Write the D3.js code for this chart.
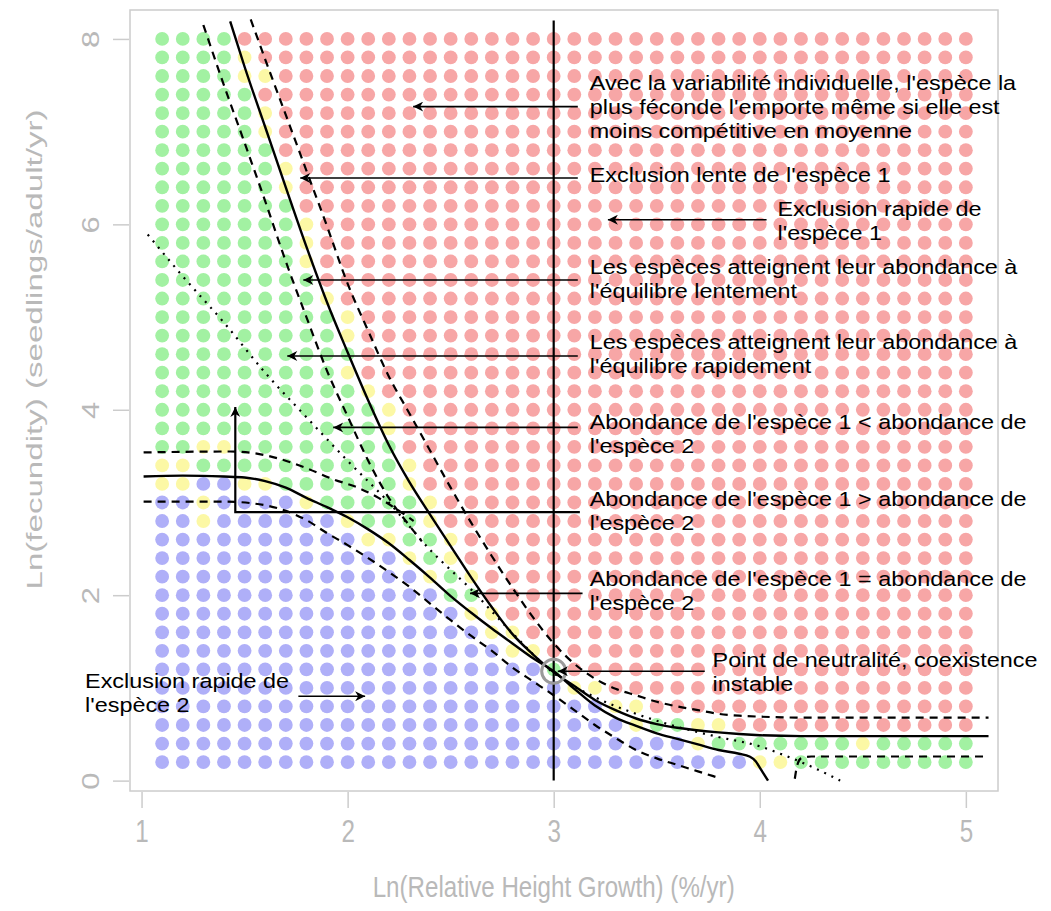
<!DOCTYPE html>
<html><head><meta charset="utf-8">
<script src="https://cdn.jsdelivr.net/npm/d3@7"></script>
<style>body{margin:0;background:#fff} svg{display:block}</style>
</head><body>
<svg id="chart" width="1051" height="911"></svg>
<script>
// ---------------- data ----------------
const xTicks = [1, 2, 3, 4, 5];
const yTicks = [0, 2, 4, 6, 8];
const gridX = [1.1,1.2,1.3,1.4,1.5,1.6,1.7,1.8,1.9,2.0,2.1,2.2,2.3,2.4,2.5,2.6,2.7,2.8,2.9,3.0,
               3.1,3.2,3.3,3.4,3.5,3.6,3.7,3.8,3.9,4.0,4.1,4.2,4.3,4.4,4.5,4.6,4.7,4.8,4.9,5.0];
const gridY = [8.0,7.8,7.6,7.4,7.2,7.0,6.8,6.6,6.4,6.2,6.0,5.8,5.6,5.4,5.2,5.0,4.8,4.6,4.4,4.2,
               4.0,3.8,3.6,3.4,3.2,3.0,2.8,2.6,2.4,2.2,2.0,1.8,1.6,1.4,1.2,1.0,0.8,0.6,0.4,0.2];
// outcome of each grid cell (G coexistence, R species 1 excluded, B species 2 excluded, Y intermediate)
const cellRows = [
 "GGGGRRRRRR RRRRRRRRRR RRRRRRRRRR RRRRRRRRRR",
 "GGGGYRRRRR RRRRRRRRRR RRRRRRRRRR RRRRRRRRRR",
 "GGGGYYRRRR RRRRRRRRRR RRRRRRRRRR RRRRRRRRRR",
 "GGGGGRRRRR RRRRRRRRRR RRRRRRRRRR RRRRRRRRRR",
 "GGGGGYRRRR RRRRRRRRRR RRRRRRRRRR RRRRRRRRRR",
 "GGGGGYRRRR RRRRRRRRRR RRRRRRRRRR RRRRRRRRRR",
 "GGGGGGRRRR RRRRRRRRRR RRRRRRRRRR RRRRRRRRRR",
 "GGGGGGYRRR RRRRRRRRRR RRRRRRRRRR RRRRRRRRRR",
 "GGGGGGYRRR RRRRRRRRRR RRRRRRRRRR RRRRRRRRRR",
 "GGGGGGGRRR RRRRRRRRRR RRRRRRRRRR RRRRRRRRRR",
 "GGGGGGGYRR RRRRRRRRRR RRRRRRRRRR RRRRRRRRRR",
 "GGGGGGGYRR RRRRRRRRRR RRRRRRRRRR RRRRRRRRRR",
 "GGGGGGGYRR RRRRRRRRRR RRRRRRRRRR RRRRRRRRRR",
 "GGGGGGGGRR RRRRRRRRRR RRRRRRRRRR RRRRRRRRRR",
 "GGGGGGGGYR RRRRRRRRRR RRRRRRRRRR RRRRRRRRRR",
 "GGGGGGGGGY RRRRRRRRRR RRRRRRRRRR RRRRRRRRRR",
 "GGGGGGGGGY RRRRRRRRRR RRRRRRRRRR RRRRRRRRRR",
 "GGGGGGGGGG RRRRRRRRRR RRRRRRRRRR RRRRRRRRRR",
 "GGGGGGGGGY RRRRRRRRRR RRRRRRRRRR RRRRRRRRRR",
 "GGGGGGGGGG YRRRRRRRRR RRRRRRRRRR RRRRRRRRRR",
 "GGGGGGGGGG GYRRRRRRRR RRRRRRRRRR RRRRRRRRRR",
 "GGGGGGGGGG GYRRRRRRRR RRRRRRRRRR RRRRRRRRRR",
 "GGYYGGGGGG GGRRRRRRRR RRRRRRRRRR RRRRRRRRRR",
 "YYGGGGGGGG GGYRRRRRRR RRRRRRRRRR RRRRRRRRRR",
 "YYBBYYGGGG GGYRRRRRRR RRRRRRRRRR RRRRRRRRRR",
 "BBYBBBBYGG GGGYRRRRRR RRRRRRRRRR RRRRRRRRRR",
 "BBYBBBBBBY GGGYRRRRRR RRRRRRRRRR RRRRRRRRRR",
 "BBBBBBBBBB YYGGYRRRRR RRRRRRRRRR RRRRRRRRRR",
 "BBBBBBBBBB BBYGYRRRRR RRRRRRRRRR RRRRRRRRRR",
 "BBBBBBBBBB BBBYGYRRRR RRRRRRRRRR RRRRRRRRRR",
 "BBBBBBBBBB BBBBGGRRRR RRRRRRRRRR RRRRRRRRRR",
 "BBBBBBBBBB BBBBBYYRRR RRRRRRRRRR RRRRRRRRRR",
 "BBBBBBBBBB BBBBBBYYRR RRRRRRRRRR RRRRRRRRRR",
 "BBBBBBBBBB BBBBBBBYYR RRRRRRRRRR RRRRRRRRRR",
 "BBBBBBBBBB BBBBBBBBBG RRRRRRRRRR RRRRRRRRRR",
 "BBBBBBBBBB BBBBBBBBBB YYRRRRRRRR RRRRRRRRRR",
 "BBBBBBBBBB BBBBBBBBBB BBYYRRRRRR RRRRRRRRRR",
 "BBBBBBBBBB BBBBBBBBBB BBBYGGYYRR RRRRRRRRRR",
 "BBBBBBBBBB BBBBBBBBBB BBBBBBYGGG GGGGYGGGGG",
 "BBBBBBBBBB BBBBBBBBBB BBBBBBBBBY YGGGGGGGGG"
];
// solid isoclines
const curveA = [[1.43,8.19],[1.50,7.70],[1.60,7.05],[1.70,6.40],[1.80,5.76],[1.90,5.16],[2.00,4.62],
  [2.10,4.10],[2.20,3.62],[2.30,3.22],[2.40,2.87],[2.50,2.53],[2.60,2.19],[2.70,1.87],[2.80,1.58],
  [2.90,1.36],[3.00,1.17],[3.10,1.02],[3.20,0.87],[3.30,0.76],[3.40,0.67],[3.50,0.61],[3.60,0.57],
  [3.80,0.52],[4.00,0.49],[4.20,0.48],[5.11,0.48]];
const curveB = [[1.01,3.28],[1.20,3.29],[1.40,3.28],[1.50,3.27],[1.60,3.23],[1.70,3.16],[1.80,3.05],
  [1.90,2.95],[2.00,2.84],[2.10,2.71],[2.20,2.56],[2.30,2.38],[2.40,2.19],[2.50,1.99],[2.60,1.81],
  [2.70,1.64],[2.80,1.48],[2.90,1.32],[3.00,1.18],[3.10,0.99],[3.20,0.81],[3.30,0.68],[3.40,0.59],
  [3.50,0.51],[3.60,0.45],[3.70,0.39],[3.80,0.33],[3.90,0.29],[3.95,0.26],[3.98,0.21],[4.00,0.14],
  [4.02,0.07],[4.04,0.00]];
// dashed bands
const dashRight = [[1.53,8.21],[1.60,7.78],[1.70,7.18],[1.80,6.58],[1.90,5.98],[2.00,5.36],[2.10,4.85],
  [2.20,4.36],[2.30,3.96],[2.40,3.56],[2.50,3.16],[2.60,2.78],[2.70,2.42],[2.80,2.08],[2.90,1.76],
  [3.00,1.48],[3.10,1.26],[3.20,1.10],[3.30,0.99],[3.40,0.92],[3.50,0.85],[3.60,0.80],[3.70,0.76],
  [3.80,0.72],[3.90,0.70],[4.00,0.69],[4.20,0.68],[5.11,0.68]];
const dashLeft = [[1.30,8.15],[1.40,7.50],[1.50,6.88],[1.60,6.25],[1.70,5.60],[1.80,5.00],[1.90,4.42],
  [2.00,3.93],[2.10,3.45],[2.20,3.05],[2.30,2.75],[2.36,2.58]];
const dashUpper = [[1.01,3.54],[1.43,3.55],[1.55,3.53],[1.67,3.47],[1.80,3.37],[1.93,3.25],[2.05,3.16],
  [2.15,3.05],[2.25,2.91],[2.32,2.80]];
const dashLower = [[1.01,3.01],[1.40,3.01],[1.60,2.97],[1.70,2.91],[1.80,2.81],[1.90,2.67],[2.00,2.54],
  [2.10,2.40],[2.20,2.25],[2.30,2.09],[2.40,1.91],[2.50,1.73],[2.60,1.56],[2.70,1.40],[2.80,1.22],
  [2.90,1.07],[3.00,0.92],[3.10,0.76],[3.20,0.60],[3.30,0.46],[3.40,0.33],[3.50,0.24],[3.60,0.17],
  [3.70,0.10],[3.80,0.03]];
const dashLowRight = [[4.17,0.02],[4.18,0.15],[4.20,0.24],[4.25,0.26],[5.11,0.26]];
// dotted line
const dotted = [[1.03,5.89],[1.20,5.44],[1.40,4.94],[1.60,4.40],[1.80,3.92],[2.00,3.45],[2.20,3.00],
  [2.40,2.49],[2.60,2.06],[2.80,1.59],[3.00,1.16],[3.20,0.90],[3.40,0.72],[3.60,0.58],[3.80,0.47],
  [4.00,0.37],[4.10,0.29],[4.20,0.20],[4.30,0.10],[4.39,0.00]];
const vLine = [[3, 8.2], [3, 0.0]];
const neutralPoint = [3.0, 1.18];
// annotations (data coordinates)
const arrows = [
  [[3.117,7.27],[2.318,7.27]],
  [[3.117,6.50],[1.770,6.50]],
  [[4.033,6.05],[3.263,6.05]],
  [[3.117,5.40],[1.785,5.40]],
  [[3.117,4.58],[1.707,4.58]],
  [[3.117,3.81],[1.930,3.81]],
  [[3.140,2.02],[2.594,2.02]],
  [[3.733,1.18],[3.020,1.18]],
  [[1.761,0.91],[2.085,0.91]]
];
const elbowArrow = [[3.127,2.895],[1.455,2.895],[1.455,4.03]];
const notes = [
  {x:3.175, y:7.52, lines:["Avec la variabilité individuelle, l'espèce la","plus féconde l'emporte même si elle est","moins compétitive en moyenne"]},
  {x:3.175, y:6.53, lines:["Exclusion lente de l'espèce 1"]},
  {x:4.086, y:6.17, lines:["Exclusion rapide de","l'espèce 1"]},
  {x:3.175, y:5.54, lines:["Les espèces atteignent leur abondance à","l'équilibre lentement"]},
  {x:3.175, y:4.73, lines:["Les espèces atteignent leur abondance à","l'équilibre rapidement"]},
  {x:3.175, y:3.87, lines:["Abondance de l'espèce 1 < abondance de","l'espèce 2"]},
  {x:3.175, y:3.04, lines:["Abondance de l'espèce 1 > abondance de","l'espèce 2"]},
  {x:3.175, y:2.17, lines:["Abondance de l'espèce 1 = abondance de","l'espèce 2"]},
  {x:3.771, y:1.30, lines:["Point de neutralité, coexistence","instable"]},
  {x:0.726, y:1.07, lines:["Exclusion rapide de","l'espèce 2"]}
];
const xTitle = "Ln(Relative Height Growth) (%/yr)";
const yTitle = "Ln(fecundity) (seedlings/adult/yr)";

// ---------------- drawing ----------------
const svg = d3.select("#chart");
const x = d3.scaleLinear().domain([0.944, 5.156]).range([130, 998]);
const y = d3.scaleLinear().domain([-0.112, 8.312]).range([791, 10]);
const fill = {G:"#a2f1a2", R:"#f7a6a6", Y:"#fcf8a5", B:"#afaff8"};
const axisGrey = "#b9b9b9";
const font = "Liberation Sans, Arial, sans-serif";

// frame
svg.append("rect").attr("x",130).attr("y",10).attr("width",868).attr("height",781)
  .attr("fill","none").attr("stroke","#cccccc").attr("stroke-width",1.5);

// cells
const cells = [];
cellRows.forEach((row,i)=>{
  const s = row.replace(/ /g,"");
  for (let j=0;j<s.length;j++) cells.push({x:gridX[j], y:gridY[i], k:s[j]});
});
svg.append("g").selectAll("circle").data(cells).join("circle")
  .attr("cx",d=>x(d.x)).attr("cy",d=>y(d.y)).attr("r",6.9)
  .attr("fill",d=>fill[d.k]);

// axes
const xAxis = d3.axisBottom(x).tickValues(xTicks).tickSize(16).tickFormat(d3.format("d"));
const gx = svg.append("g").attr("transform","translate(0,792)").call(xAxis);
gx.select(".domain").remove();
gx.selectAll("line").attr("stroke","#cccccc").attr("stroke-width",1.5);
gx.selectAll("text").attr("fill",axisGrey).attr("font-family",font)
  .attr("font-size",31).attr("y",null).attr("dy",null)
  .attr("transform","translate(0,50) scale(0.78,1)");

const yAxis = d3.axisLeft(y).tickValues(yTicks).tickSize(16).tickFormat(d3.format("d"));
const gy = svg.append("g").attr("transform","translate(129,0)").call(yAxis);
gy.select(".domain").remove();
gy.selectAll("line").attr("stroke","#cccccc").attr("stroke-width",1.5);
gy.selectAll("text").attr("fill",axisGrey).attr("font-family",font)
  .attr("font-size",31).attr("text-anchor","middle").attr("x",null).attr("dy",null).attr("y",null)
  .attr("transform","translate(-30,0) scale(0.78,1) rotate(-90)");

svg.append("text").attr("x",x(3.0)).attr("y",897).attr("text-anchor","middle")
  .attr("fill",axisGrey).attr("font-family",font).attr("font-size",29)
  .attr("textLength",362).attr("lengthAdjust","spacingAndGlyphs").text(xTitle);
svg.append("text").attr("transform",`translate(42,${y(4.65)}) scale(0.78,1) rotate(-90)`).attr("text-anchor","middle")
  .attr("fill",axisGrey).attr("font-family",font).attr("font-size",29)
  .attr("textLength",480).attr("lengthAdjust","spacingAndGlyphs").text(yTitle);

// lines
const line = d3.line().x(d=>x(d[0])).y(d=>y(d[1])).curve(d3.curveMonotoneX);
const straight = d3.line().x(d=>x(d[0])).y(d=>y(d[1]));
const lg = svg.append("g").attr("fill","none").attr("stroke","#000");
[dashRight, dashLeft, dashUpper, dashLower, dashLowRight].forEach(p=>
  lg.append("path").attr("d",line(p)).attr("stroke-width",2.2).attr("stroke-dasharray","8,6"));
lg.append("path").attr("d",line(dotted)).attr("stroke-width",2.2).attr("stroke-dasharray","2,6");
lg.append("path").attr("d",line(curveA)).attr("stroke-width",2.4);
lg.append("path").attr("d",line(curveB)).attr("stroke-width",2.4);
lg.append("path").attr("d",straight(vLine)).attr("stroke-width",2.2);

// neutral point circle
svg.append("circle").attr("cx",x(neutralPoint[0])).attr("cy",y(neutralPoint[1])).attr("r",12)
  .attr("fill","none").attr("stroke","#9a9a9a").attr("stroke-width",3);

// arrows
svg.append("defs").append("marker").attr("id","ah").attr("viewBox","0 0 10 10")
  .attr("refX",10).attr("refY",5).attr("markerWidth",14).attr("markerHeight",10)
  .attr("markerUnits","userSpaceOnUse").attr("orient","auto")
  .append("path").attr("d","M0,0 L10,5 L0,10 L3,5 Z").attr("fill","#000");
const ag = svg.append("g").attr("fill","none").attr("stroke","#000");
arrows.forEach(a=> ag.append("path").attr("d",straight(a)).attr("stroke-width",1.6).attr("marker-end","url(#ah)"));
ag.append("path").attr("d",straight(elbowArrow)).attr("stroke-width",2.2).attr("marker-end","url(#ah)");

// notes
const tg = svg.append("g").attr("font-family",font).attr("font-size",19.5).attr("fill","#000");
notes.forEach(n=>{
  const t = tg.append("text").attr("transform",`translate(${x(n.x)},${y(n.y)}) scale(1.2,1)`);
  n.lines.forEach((l,i)=> t.append("tspan").attr("x",0).attr("y",i*24).attr("dy","0.36em").text(l));
});
</script>
</body></html>
